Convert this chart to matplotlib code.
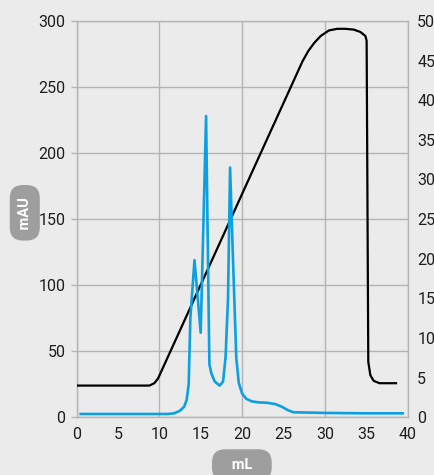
import matplotlib
matplotlib.use("Agg")
import matplotlib.pyplot as plt
from matplotlib.ticker import MultipleLocator, FormatStrFormatter

# UV trace (left axis, mAU)
uv_ml = [0.5, 11.0, 11.8, 12.5, 13.0, 13.3, 13.55, 13.75, 14.25, 15.0, 15.65,
         16.05, 16.3, 16.7, 17.3, 17.7, 18.0, 18.3, 18.55, 18.9, 19.3, 19.6,
         20.0, 20.5, 21.2, 22.0, 23.0, 24.0, 24.8, 25.5, 26.2, 30.0, 35.0, 39.4]
uv_mau = [2.5, 2.5, 3.0, 5.0, 8.0, 13.0, 25.0, 75.0, 119.0, 64.0, 228.0,
          40.0, 33.0, 27.0, 24.0, 27.0, 45.0, 90.0, 189.0, 120.0, 45.0, 26.0,
          18.0, 14.0, 12.0, 11.3, 11.0, 10.0, 8.0, 5.5, 3.8, 3.3, 3.0, 3.0]

# second trace (right axis)
cond_ml = [0.0, 8.8, 9.4, 9.85, 27.3, 28.0, 28.7, 29.5, 30.5, 31.5, 32.5,
           33.5, 34.3, 34.9, 35.05, 35.25, 35.5, 35.9, 36.6, 38.6]
cond_val = [4.0, 4.0, 4.3, 4.9, 44.9, 46.2, 47.2, 48.1, 48.8, 49.0, 49.0,
            48.9, 48.6, 48.1, 47.5, 7.0, 5.3, 4.6, 4.3, 4.3]

bg = '#ebebeb'
grid_col = '#b4b4b4'
txt_col = '#1e1e1e'

plt.rcParams['font.family'] = ['Roboto', 'DejaVu Sans']

fig = plt.figure(figsize=(4.35, 4.75), dpi=100, facecolor=bg)
ax = fig.add_axes([0.176, 0.1215, 0.761, 0.8345])
ax.set_facecolor(bg)
ax2 = ax.twinx()
ax2.patch.set_visible(False)

ax.set_xlim(0, 40)
ax.set_ylim(0, 300)
ax2.set_ylim(0, 50)

# black line uses the right axis scale, drawn under the blue one
ax.plot(cond_ml, cond_val, color='black', lw=1.6, transform=ax2.transData, zorder=3)
ax.plot(uv_ml, uv_mau, color='#0aa0e2', lw=1.9, zorder=4)

ax.xaxis.set_major_locator(MultipleLocator(10))
ax.xaxis.set_minor_locator(MultipleLocator(5))
ax.xaxis.set_minor_formatter(FormatStrFormatter('%d'))
ax.yaxis.set_major_locator(MultipleLocator(50))
ax2.yaxis.set_major_locator(MultipleLocator(5))

ax.grid(True, which='major', color=grid_col, lw=1.0, zorder=1)
ax.set_axisbelow(True)

ax.tick_params(axis='x', which='both', length=0, pad=7, labelsize=11.5, labelcolor=txt_col)
ax.tick_params(axis='y', length=4, width=1, color=grid_col, pad=4, labelsize=11.5, labelcolor=txt_col)
ax2.tick_params(axis='y', length=0, pad=7, labelsize=11.5, labelcolor=txt_col)

for s in ax.spines.values():
    s.set_color(grid_col)
    s.set_linewidth(1.0)
for s in ax2.spines.values():
    s.set_visible(False)

pill = dict(boxstyle='round,pad=0.55,rounding_size=0.9', facecolor='#9e9e9e', edgecolor='none')
fig.text(0.057, 0.552, ' mAU ', rotation=90, ha='center', va='center', color='white',
         fontsize=10.5, fontweight='bold', bbox=pill)
fig.text(0.556, 0.021, '   mL   ', ha='center', va='center', color='white',
         fontsize=10.5, fontweight='bold',
         bbox=dict(boxstyle='round,pad=0.6,rounding_size=0.9', facecolor='#9e9e9e',
                   edgecolor='none'))

fig.savefig('out.png', dpi=100, facecolor=bg)
